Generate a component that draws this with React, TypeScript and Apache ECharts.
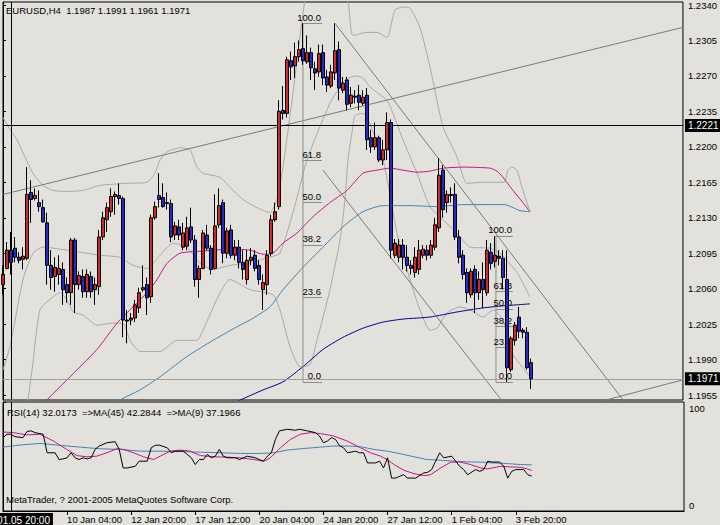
import React, { useEffect, useRef } from 'react';
import * as echarts from 'echarts';

const BG = '#e2e1dc';
const FONT = '"Liberation Sans", Arial, sans-serif';
const FS = 9.5;
const RED = '#d02828';
const BLUE = '#2828c8';
const GRAY_BB = '#a8a8a8';
const GRAY_TREND = '#7a7a7a';
const GRAY_FIB = '#8c8c8c';
const PINK = '#c71585';
const STEEL = '#4682b4';
const NAVY = '#00008b';

const symbolName = 'EURUSD,H4';

// [open, close, low, high] per H4 bar
const candles = [
  [1.2064, 1.2074, 1.2054, 1.2083], [1.2080, 1.2098, 1.2079, 1.2106], [1.2098, 1.2086, 1.2074, 1.2116],
  [1.2100, 1.2091, 1.2086, 1.2111], [1.2091, 1.2088, 1.2085, 1.2096], [1.2089, 1.2092, 1.2079, 1.2101],
  [1.2090, 1.2153, 1.2088, 1.2180], [1.2155, 1.2148, 1.2125, 1.2167], [1.2149, 1.2152, 1.2147, 1.2159],
  [1.2145, 1.2141, 1.2136, 1.2157], [1.2140, 1.2126, 1.2125, 1.2148], [1.2125, 1.2083, 1.2064, 1.2135],
  [1.2083, 1.2071, 1.2059, 1.2098], [1.2072, 1.2081, 1.2057, 1.2091], [1.2074, 1.2080, 1.2064, 1.2093],
  [1.2079, 1.2059, 1.2044, 1.2086], [1.2064, 1.2056, 1.2046, 1.2071], [1.2056, 1.2108, 1.2044, 1.2110],
  [1.2108, 1.2064, 1.2036, 1.2110], [1.2064, 1.2073, 1.2059, 1.2077], [1.2072, 1.2057, 1.2051, 1.2079],
  [1.2057, 1.2074, 1.2051, 1.2079], [1.2072, 1.2057, 1.2051, 1.2077], [1.2059, 1.2064, 1.2044, 1.2071],
  [1.2062, 1.2111, 1.2054, 1.2118], [1.2111, 1.2130, 1.2108, 1.2136], [1.2128, 1.2140, 1.2116, 1.2145],
  [1.2136, 1.2151, 1.2131, 1.2159], [1.2151, 1.2153, 1.2133, 1.2156], [1.2152, 1.2149, 1.2143, 1.2164],
  [1.2149, 1.2029, 1.2012, 1.2151], [1.2029, 1.2028, 1.2006, 1.2039], [1.2029, 1.2031, 1.2024, 1.2036],
  [1.2031, 1.2044, 1.2027, 1.2049], [1.2041, 1.2056, 1.2036, 1.2061], [1.2059, 1.2061, 1.2057, 1.2083],
  [1.2064, 1.2051, 1.2034, 1.2071], [1.2052, 1.2130, 1.2046, 1.2133], [1.2130, 1.2141, 1.2128, 1.2146],
  [1.2152, 1.2148, 1.2140, 1.2174], [1.2150, 1.2141, 1.2140, 1.2164], [1.2145, 1.2144, 1.2138, 1.2155],
  [1.2144, 1.2111, 1.2106, 1.2148], [1.2113, 1.2122, 1.2108, 1.2126], [1.2121, 1.2113, 1.2108, 1.2128],
  [1.2101, 1.2115, 1.2098, 1.2125], [1.2102, 1.2120, 1.2098, 1.2131], [1.2121, 1.2108, 1.2105, 1.2140],
  [1.2108, 1.2069, 1.2062, 1.2113], [1.2069, 1.2080, 1.2051, 1.2083], [1.2080, 1.2115, 1.2079, 1.2118],
  [1.2113, 1.2100, 1.2098, 1.2123], [1.2100, 1.2079, 1.2074, 1.2103], [1.2080, 1.2122, 1.2079, 1.2153],
  [1.2123, 1.2142, 1.2120, 1.2159], [1.2145, 1.2095, 1.2085, 1.2148], [1.2095, 1.2117, 1.2090, 1.2120],
  [1.2118, 1.2093, 1.2090, 1.2123], [1.2093, 1.2101, 1.2088, 1.2108], [1.2101, 1.2086, 1.2080, 1.2108],
  [1.2086, 1.2079, 1.2069, 1.2098], [1.2069, 1.2088, 1.2064, 1.2098], [1.2088, 1.2091, 1.2083, 1.2100],
  [1.2093, 1.2080, 1.2077, 1.2098], [1.2083, 1.2069, 1.2064, 1.2088], [1.2059, 1.2066, 1.2039, 1.2074],
  [1.2064, 1.2093, 1.2054, 1.2098], [1.2095, 1.2128, 1.2092, 1.2133], [1.2128, 1.2136, 1.2126, 1.2145],
  [1.2141, 1.2235, 1.2138, 1.2246], [1.2236, 1.2233, 1.2227, 1.2260], [1.2233, 1.2286, 1.2229, 1.2289],
  [1.2285, 1.2279, 1.2266, 1.2294], [1.2280, 1.2289, 1.2268, 1.2303], [1.2289, 1.2296, 1.2284, 1.2305],
  [1.2297, 1.2285, 1.2281, 1.2322], [1.2284, 1.2293, 1.2282, 1.2310], [1.2293, 1.2278, 1.2266, 1.2298],
  [1.2277, 1.2273, 1.2256, 1.2284], [1.2274, 1.2292, 1.2269, 1.2301], [1.2293, 1.2268, 1.2261, 1.2301],
  [1.2269, 1.2261, 1.2254, 1.2276], [1.2260, 1.2274, 1.2258, 1.2281], [1.2273, 1.2295, 1.2266, 1.2322],
  [1.2296, 1.2258, 1.2246, 1.2304], [1.2256, 1.2263, 1.2253, 1.2269], [1.2266, 1.2242, 1.2236, 1.2269],
  [1.2243, 1.2251, 1.2239, 1.2259], [1.2249, 1.2250, 1.2243, 1.2256], [1.2251, 1.2244, 1.2236, 1.2261],
  [1.2243, 1.2249, 1.2241, 1.2256], [1.2251, 1.2207, 1.2197, 1.2258], [1.2209, 1.2200, 1.2194, 1.2217],
  [1.2200, 1.2209, 1.2197, 1.2224], [1.2209, 1.2187, 1.2185, 1.2211], [1.2187, 1.2197, 1.2182, 1.2207],
  [1.2197, 1.2224, 1.2187, 1.2234], [1.2224, 1.2098, 1.2090, 1.2227], [1.2093, 1.2105, 1.2090, 1.2109],
  [1.2091, 1.2103, 1.2086, 1.2109], [1.2103, 1.2091, 1.2079, 1.2109], [1.2091, 1.2083, 1.2077, 1.2103],
  [1.2083, 1.2080, 1.2074, 1.2088], [1.2076, 1.2091, 1.2071, 1.2101], [1.2079, 1.2098, 1.2074, 1.2108],
  [1.2093, 1.2099, 1.2090, 1.2103], [1.2098, 1.2093, 1.2088, 1.2103], [1.2093, 1.2103, 1.2090, 1.2108],
  [1.2101, 1.2123, 1.2098, 1.2130], [1.2120, 1.2172, 1.2116, 1.2189], [1.2177, 1.2138, 1.2130, 1.2182],
  [1.2145, 1.2153, 1.2135, 1.2157], [1.2152, 1.2153, 1.2145, 1.2160], [1.2153, 1.2111, 1.2108, 1.2164],
  [1.2111, 1.2091, 1.2085, 1.2118], [1.2093, 1.2074, 1.2069, 1.2098], [1.2076, 1.2056, 1.2046, 1.2080],
  [1.2054, 1.2077, 1.2051, 1.2080], [1.2079, 1.2056, 1.2036, 1.2083], [1.2056, 1.2069, 1.2049, 1.2077],
  [1.2069, 1.2059, 1.2041, 1.2086], [1.2056, 1.2098, 1.2053, 1.2108], [1.2096, 1.2085, 1.2079, 1.2105],
  [1.2087, 1.2093, 1.2081, 1.2112], [1.2092, 1.2090, 1.2083, 1.2098], [1.2090, 1.2071, 1.2059, 1.2098],
  [1.2069, 1.1982, 1.1968, 1.2098], [1.1980, 1.2011, 1.1978, 1.2013], [1.2009, 1.2024, 1.2004, 1.2027],
  [1.2032, 1.2018, 1.2011, 1.2042], [1.2019, 1.2017, 1.2011, 1.2021], [1.2017, 1.1982, 1.1980, 1.2022],
  [1.1987, 1.1971, 1.1961, 1.1991],
];

const priceTicks = [1.1955, 1.1990, 1.2025, 1.2060, 1.2095, 1.2130, 1.2165, 1.2200, 1.2235, 1.2270, 1.2305, 1.2340];
const priceMin = 1.19501;
const priceMax = 1.2343;
const barSlots = 171;

const tickBars = [16, 32, 48, 64, 80, 96, 112, 128];
const tickLabels = ['10 Jan 04:00', '12 Jan 20:00', '17 Jan 12:00', '20 Jan 04:00', '24 Jan 20:00', '27 Jan 12:00', '1 Feb 04:00', '3 Feb 20:00'];

const crosshairBar = 2;
const crosshairTime = '2005.01.05 20:00';
const crosshairPrice = 1.2221;

// indicator polylines: [bar index, price]
const bbUpper = [[0, 1.2229], [1.75, 1.2217], [3.5, 1.2207], [5, 1.2194], [7.5, 1.2174], [10, 1.2162], [12.5, 1.2157], [16, 1.2156], [20, 1.2157], [24.25, 1.2162], [31, 1.2164], [36, 1.2165], [38, 1.2174], [39.25, 1.2187], [41, 1.2195], [44.25, 1.2199], [46.75, 1.2197], [48.5, 1.2180], [50, 1.2174], [54.25, 1.2170], [56.75, 1.2160], [60, 1.2148], [63.5, 1.2140], [66.75, 1.2135], [68.5, 1.2148], [70, 1.2180], [72.5, 1.2253], [75.5, 1.2345], [78, 1.2384], [81.75, 1.2394], [85, 1.2355], [86.25, 1.2345], [87.5, 1.2310], [91, 1.2313], [93.5, 1.2313], [96, 1.2308], [98, 1.2335], [100, 1.2338], [101.75, 1.2337], [104.25, 1.2318], [106.75, 1.2279], [110, 1.2220], [113.5, 1.2190], [116, 1.2164], [120, 1.2165], [125.25, 1.2165], [126.25, 1.2177], [127.25, 1.2180], [128.5, 1.2177], [129.75, 1.2160], [131.75, 1.2136]];
const bbMiddle = [[0, 1.1980], [1.75, 1.2003], [5, 1.2069], [7.5, 1.2095], [10, 1.2101], [16, 1.2098], [24.25, 1.2093], [29.25, 1.2091], [32.5, 1.2083], [36, 1.2080], [39.25, 1.2093], [42.5, 1.2105], [46, 1.2101], [49.25, 1.2085], [52.5, 1.2079], [56.75, 1.2083], [61.75, 1.2086], [67.5, 1.2092], [69.25, 1.2095], [72.5, 1.2135], [76, 1.2187], [81.75, 1.2243], [85.5, 1.2266], [88.5, 1.2270], [90, 1.2268], [91.75, 1.2259], [96, 1.2246], [97.5, 1.2233], [100, 1.2207], [103.5, 1.2174], [106.75, 1.2141], [110, 1.2128], [113.5, 1.2115], [116.75, 1.2101], [121.75, 1.2100], [124.25, 1.2095], [128.5, 1.2076], [131.75, 1.2052]];
const bbLower = [[5.5, 1.1935], [6.25, 1.1950], [7.5, 1.1987], [9.25, 1.2039], [12.5, 1.2052], [14.25, 1.2056], [16, 1.2049], [17.5, 1.2037], [20, 1.2034], [23.5, 1.2024], [27.5, 1.2026], [30, 1.2026], [31.75, 1.2009], [34.25, 1.1998], [39.25, 1.1998], [43.5, 1.2009], [48.5, 1.2009], [50, 1.2019], [54.25, 1.2056], [56.75, 1.2069], [61.75, 1.2059], [67.5, 1.2054], [69.25, 1.2039], [71.75, 1.2003], [74.25, 1.1983], [76.75, 1.1985], [78.5, 1.2009], [81.75, 1.2059], [84.25, 1.2108], [85.5, 1.2148], [86.25, 1.2187], [87.25, 1.2214], [88, 1.2231], [90, 1.2233], [95, 1.2187], [98.5, 1.2115], [101.75, 1.2069], [104.25, 1.2039], [106.75, 1.2019], [108.5, 1.2021], [111, 1.2036], [114.25, 1.2042], [116.75, 1.2039], [120, 1.2032], [122.5, 1.2039], [125, 1.2029], [127.5, 1.1995], [130, 1.1982], [131.75, 1.1973]];
const maPink = [[8.5, 1.1935], [11, 1.1950], [16, 1.1970], [23.5, 1.2000], [28.5, 1.2026], [32.5, 1.2042], [36, 1.2056], [38.5, 1.2069], [41, 1.2085], [44.25, 1.2095], [49.25, 1.2097], [57.5, 1.2099], [61.75, 1.2098], [65, 1.2094], [67.5, 1.2095], [70, 1.2105], [73.5, 1.2115], [77.5, 1.2131], [81.75, 1.2145], [86, 1.2157], [90, 1.2174], [93.5, 1.2177], [96.75, 1.2179], [100, 1.2177], [103.5, 1.2175], [106.75, 1.2176], [110, 1.2179], [115, 1.2180], [121.75, 1.2179], [123.5, 1.2176], [125, 1.2170], [127.5, 1.2157], [130, 1.2145], [131.75, 1.2136]];
const maSteel = [[27, 1.1940], [29.25, 1.1950], [34.25, 1.1960], [39.25, 1.1973], [46, 1.1993], [52.5, 1.2009], [59.25, 1.2024], [61.75, 1.2029], [66.75, 1.2042], [70, 1.2059], [75, 1.2081], [80, 1.2101], [85, 1.2121], [90, 1.2136], [95, 1.2142], [101.75, 1.2142], [108.5, 1.2141], [115, 1.2143], [125.5, 1.2143], [127.5, 1.2140], [129.25, 1.2137], [131.75, 1.2136]];
const maNavy = [[56, 1.1944], [59.25, 1.1950], [65, 1.1960], [70, 1.1968], [75, 1.1983], [80, 1.2000], [85, 1.2012], [90, 1.2021], [95, 1.2027], [100, 1.2030], [106.75, 1.2032], [113.5, 1.2037], [120, 1.2041], [125, 1.2043], [131.75, 1.2045]];

// trend lines, two anchors each: [bar index, price]
const trendLines = [
  [[0, 1.2153], [170, 1.2318]],
  [[83, 1.2322], [157, 1.1940]],
  [[80, 1.2177], [126, 1.1943]],
  [[140, 1.1939], [170, 1.1970]],
];

const fibs = [
  { start: 75, end: 79.75, high: 1.2322, low: 1.1968 },
  { start: 123.25, end: 127.5, high: 1.2112, low: 1.1968 },
];
const fibLevels = [100, 61.8, 50, 38.2, 23.6, 0];

// RSI panel: [bar index, value]
const rsiLine = [[0, 67.3], [1, 70.4], [2, 70.4], [3, 68.2], [5, 67.3], [6, 73], [7, 73.5], [8, 71.9], [10, 70.4], [10.5, 62.7], [11, 53.4], [13, 53.4], [14, 47.2], [15, 47.8], [16, 48.8], [17, 53.4], [18, 48.8], [19, 47.2], [20, 48.8], [21, 47.8], [22, 48.8], [23, 56.5], [24, 59.6], [26, 62.7], [28, 63.6], [29, 56.5], [30, 39.5], [31, 39.5], [33, 41], [34, 45.7], [36, 45.7], [37, 58], [38, 60.2], [39, 60.5], [41, 58], [42, 53.4], [43, 54.9], [45, 54.9], [46, 51.9], [47, 48.8], [48, 42.6], [49, 47.2], [50, 47.2], [51, 51.9], [52, 48.8], [53, 50.3], [54, 56.5], [55, 50.3], [56, 48.8], [58, 48.8], [59, 47.2], [61, 50.3], [63, 48.8], [64, 47.2], [65, 45.7], [66, 50.3], [67, 53.4], [68, 65.7], [69, 73.5], [71, 75], [73, 74.1], [74, 75], [76, 73.5], [78, 71.9], [79, 68.8], [80, 62.7], [81, 64.2], [82, 67.3], [83, 65.7], [84, 60], [85, 58], [86, 53.4], [88, 54.9], [89, 53.4], [90, 53.4], [91, 44.1], [93, 44.1], [94, 45.7], [95, 39.5], [96, 48.8], [97, 30.2], [98, 30.2], [100, 33.3], [101, 30.2], [103, 30.2], [105, 34.9], [106, 35.5], [107, 38], [108, 45.7], [109, 53.4], [110, 48.8], [112, 50.3], [113, 45.7], [114, 41], [115, 38], [116, 33.3], [118, 38], [119, 36.4], [120, 38], [121, 45.7], [122, 44.9], [124, 44.9], [125, 41], [126, 30.2], [127, 36.4], [128, 38], [130, 38], [131, 33.3], [132, 32.0]];
const rsiMa9 = [[0, 72.5], [2.6, 71.9], [5.9, 69.8], [9.25, 70.4], [12.6, 64.2], [15.9, 56.5], [18.4, 50.9], [20.9, 49.7], [23.4, 50.3], [25.9, 53.4], [28.4, 57.1], [30.1, 56.5], [32.6, 53.4], [35.1, 49.7], [37.6, 47.2], [39.25, 50.3], [41.75, 54.9], [44.25, 55.9], [46.75, 54.9], [49.25, 50.9], [52.6, 49.7], [55.9, 49.4], [59.25, 48.8], [62.6, 47.2], [65.1, 45.7], [66.75, 48.8], [69.25, 58.0], [71.75, 65.7], [74.25, 70.4], [76.75, 71.9], [79.25, 71.0], [82.6, 68.8], [85.9, 64.2], [89.25, 58.0], [91.75, 53.4], [94.25, 50.3], [95.9, 47.2], [97.6, 42.6], [100.1, 37.3], [102.6, 34.3], [105.1, 32.4], [106.75, 33.3], [109.25, 39.5], [111.75, 44.8], [114.25, 44.8], [116.75, 42.6], [119.25, 39.5], [120.9, 38.6], [124.25, 41.0], [126.75, 40.4], [129.25, 40.1], [130.9, 38.6], [132, 37.2]];
const rsiMa45 = [[0, 58.6], [4.25, 60.5], [9.25, 62.0], [14.25, 60.2], [19.25, 58.6], [24.25, 57.1], [29.25, 56.5], [34.25, 54.9], [39.25, 54.9], [44.25, 54.6], [49.25, 54.0], [54.25, 53.4], [59.25, 52.8], [64.25, 52.8], [67.6, 53.4], [70.9, 55.9], [74.25, 57.1], [79.25, 58.6], [82.6, 59.6], [85.9, 59.6], [89.25, 59.0], [92.6, 56.5], [95.9, 54.9], [99.25, 52.5], [102.6, 49.7], [105.9, 47.2], [109.25, 46.6], [112.6, 45.7], [115.9, 45.1], [119.25, 44.8], [122.6, 44.1], [125.9, 43.5], [129.25, 42.6], [132, 42.3]];
const rsiReadout = { rsi: 32.0173, ma45: 42.2844, ma9: 37.1966 };
const copyrightText = 'MetaTrader, ? 2001-2005 MetaQuotes Software Corp.';

function buildOption() {
  const cats = Array.from({ length: barSlots }, (_, i) => String(i));
  const last = candles[candles.length - 1];
  const txt = { fontFamily: FONT, fontSize: FS, color: '#000', fontWeight: 'normal' as const };
  const isTick = (i: number) => tickBars.includes(i);
  const priceLine = (name: string, data: number[][], color: string) => ({
    type: 'line', name, xAxisIndex: 1, yAxisIndex: 0, data, symbol: 'none', showSymbol: false,
    smooth: 0.2, clip: true, silent: true, lineStyle: { color, width: 1 }, z: 2,
  });
  const rsiSeries = (name: string, data: number[][], color: string, extra: any = {}) => ({
    type: 'line', name, xAxisIndex: 3, yAxisIndex: 1, data, symbol: 'none', showSymbol: false,
    clip: true, silent: true, lineStyle: { color, width: 1 }, ...extra,
  });
  const boxLabel = (text: string, position: string) => ({
    show: true, position, formatter: text, backgroundColor: '#000', color: '#fff',
    padding: [2, 3, 1, 3], distance: 2, fontFamily: FONT, fontSize: FS + 0.5,
  });

  const series: any[] = [];
  series.push(priceLine('bbUpper', bbUpper, GRAY_BB));
  series.push(priceLine('bbMiddle', bbMiddle, GRAY_BB));
  series.push(priceLine('bbLower', bbLower, GRAY_BB));
  series.push(priceLine('maPink', maPink, PINK));
  series.push(priceLine('maSteel', maSteel, STEEL));
  series.push(priceLine('maNavy', maNavy, NAVY));
  trendLines.forEach((t, k) => {
    series.push({ ...priceLine('trend' + k, t, GRAY_TREND), smooth: false });
  });
  fibs.forEach((f, k) => {
    const lvl = (l: number) => f.low + ((f.high - f.low) * l) / 100;
    series.push({
      ...priceLine('fib' + k, [[f.start, f.high], [f.start, f.low]], GRAY_FIB),
      smooth: false,
      markLine: {
        silent: true, symbol: ['none', 'none'], animation: false, precision: 6,
        lineStyle: { color: GRAY_FIB, type: 'solid', width: 1 },
        label: { show: true, position: 'insideEndTop', formatter: '{b}', distance: 1, ...txt },
        data: fibLevels.map((l) => [
          { name: l.toFixed(1), coord: [f.start, lvl(l)] },
          { coord: [f.end, lvl(l)] },
        ]),
      },
    });
  });
  // price lines: last close and crosshair
  series.push({
    type: 'line', name: 'priceLines', xAxisIndex: 1, yAxisIndex: 0,
    data: [[crosshairBar, crosshairPrice]], symbol: 'none', showSymbol: false, silent: true,
    lineStyle: { width: 0 }, z: 6,
    markLine: {
      silent: true, symbol: ['none', 'none'], animation: false, precision: 6,
      data: [
        { yAxis: last[1], lineStyle: { color: '#a0a0a0', type: 'solid', width: 1 }, label: boxLabel(last[1].toFixed(4), 'end') },
        { yAxis: crosshairPrice, lineStyle: { color: '#000', type: 'solid', width: 1 }, label: boxLabel(crosshairPrice.toFixed(4), 'end') },
        { xAxis: crosshairBar, lineStyle: { color: '#000', type: 'solid', width: 1 }, label: { show: false } },
      ],
    },
  });
  series.push({
    type: 'candlestick', name: symbolName, xAxisIndex: 0, yAxisIndex: 0, data: candles, barWidth: 3,
    silent: true, z: 5,
    itemStyle: { color: RED, color0: BLUE, borderColor: '#000', borderColor0: '#000', borderWidth: 1 },
  });
  series.push(rsiSeries('rsiMa45', rsiMa45, STEEL));
  series.push(rsiSeries('rsiMa9', rsiMa9, PINK));
  series.push(rsiSeries('rsi', rsiLine, '#000', {
    markLine: {
      silent: true, symbol: ['none', 'none'], animation: false, precision: 6,
      data: [{ xAxis: crosshairBar, lineStyle: { color: '#000', type: 'solid', width: 1 }, label: boxLabel(crosshairTime, 'start') }],
    },
  }));

  return {
    animation: false,
    backgroundColor: BG,
    textStyle: { fontFamily: FONT, fontSize: FS },
    title: [
      {
        text: `${symbolName}  ${last[0].toFixed(4)} ${last[3].toFixed(4)} ${last[2].toFixed(4)} ${last[1].toFixed(4)}`,
        left: 6, top: 5, padding: 0, textStyle: txt,
      },
      {
        text: `RSI(14) ${rsiReadout.rsi.toFixed(4)}  =>MA(45) ${rsiReadout.ma45.toFixed(4)}  =>MA(9) ${rsiReadout.ma9.toFixed(4)}`,
        left: 7, top: 407, padding: 0, textStyle: txt,
      },
      { text: copyrightText, left: 6, top: 494, padding: 0, textStyle: txt },
    ],
    grid: [
      { left: 3, top: 2, width: 681, height: 398, show: true, borderColor: '#000', borderWidth: 1, backgroundColor: 'transparent' },
      { left: 3, top: 402, width: 681, height: 109, show: true, borderColor: '#000', borderWidth: 1, backgroundColor: 'transparent' },
    ],
    xAxis: [
      { type: 'category', gridIndex: 0, data: cats, boundaryGap: false, show: false },
      { type: 'value', gridIndex: 0, min: 0, max: barSlots - 1, show: false },
      {
        type: 'category', gridIndex: 1, data: cats, boundaryGap: false,
        axisLine: { show: true, lineStyle: { color: '#000' } },
        axisTick: { show: true, interval: (i: number) => isTick(i), length: 4, lineStyle: { color: '#000' } },
        axisLabel: {
          interval: (i: number) => isTick(i),
          formatter: (_v: string, i: number) => tickLabels[tickBars.indexOf(i)] || '',
          align: 'left', margin: 3, ...txt,
        },
        splitLine: { show: false },
      },
      { type: 'value', gridIndex: 1, min: 0, max: barSlots - 1, show: false },
    ],
    yAxis: [
      {
        type: 'value', gridIndex: 0, min: priceMin, max: priceMax, position: 'right',
        axisLine: { show: true, lineStyle: { color: '#000' } },
        axisTick: { show: true, customValues: priceTicks, length: 3, lineStyle: { color: '#000' } },
        axisLabel: { customValues: priceTicks, formatter: (v: number) => v.toFixed(4), margin: 5, ...txt },
        splitLine: { show: false },
      },
      {
        type: 'value', gridIndex: 1, min: 0, max: 100, position: 'right',
        axisLine: { show: true, lineStyle: { color: '#000' } },
        axisTick: { show: true, customValues: [0, 100], length: 3, lineStyle: { color: '#000' } },
        axisLabel: {
          customValues: [0, 100], margin: 5, ...txt,
          formatter: (v: number) => (v >= 100 ? '{t|100}' : '{b|0}'),
          rich: { t: { padding: [12, 0, 0, 0], ...txt }, b: { padding: [0, 0, 12, 0], ...txt } },
        },
        splitLine: { show: false },
      },
    ],
    series,
  };
}

export default function App() {
  const ref = useRef<HTMLDivElement>(null);
  useEffect(() => {
    document.body.style.margin = '0';
    document.body.style.background = BG;
    if (!ref.current) return;
    const chart = echarts.init(ref.current, undefined, { renderer: 'svg' });
    chart.setOption(buildOption() as any);
    return () => chart.dispose();
  }, []);
  return <div ref={ref} style={{ width: 720, height: 525, background: BG }} />;
}
